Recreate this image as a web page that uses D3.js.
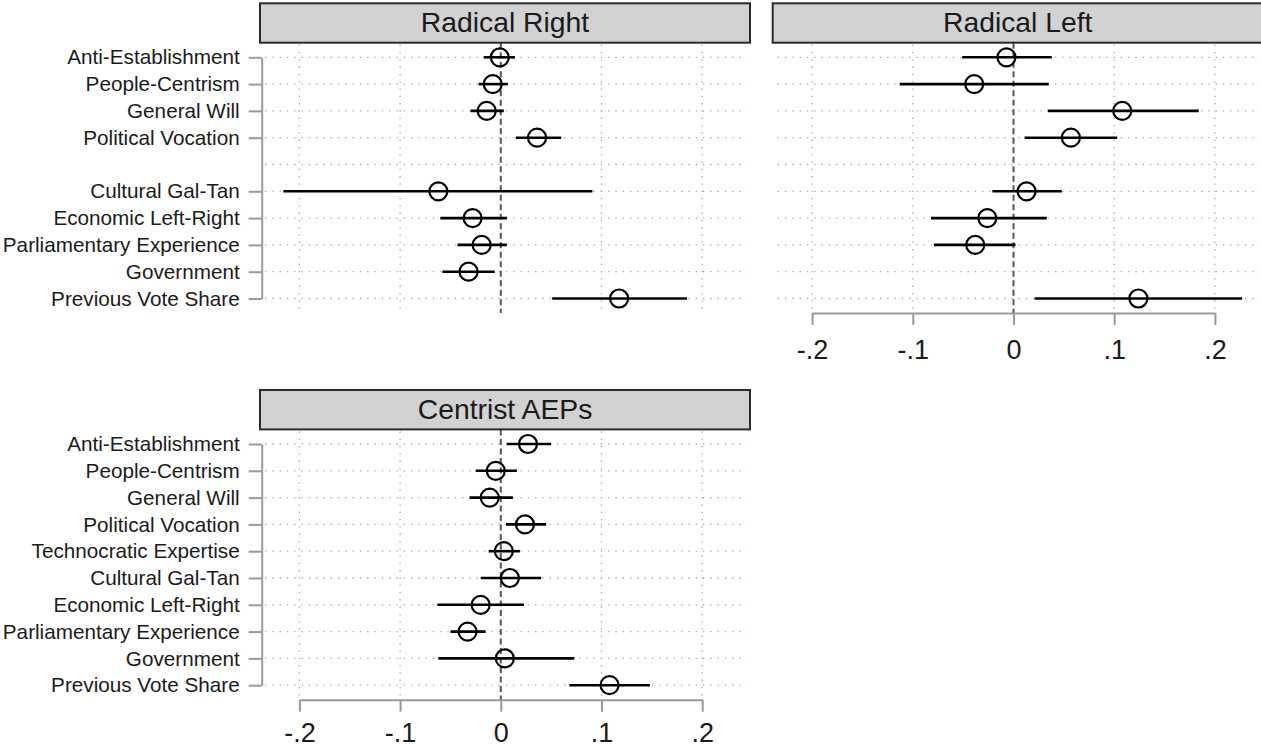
<!DOCTYPE html>
<html>
<head>
<meta charset="utf-8">
<script src="https://cdn.jsdelivr.net/npm/d3@7"></script>
<style>
  html, body { margin: 0; padding: 0; background: #fff; }
  svg { display: block; font-family: "Liberation Sans", Arial, sans-serif; }
</style>
</head>
<body>
<svg id="chart" width="1261" height="749"></svg>
<script>
// ---- data ----
const labels = ["Anti-Establishment","People-Centrism","General Will","Political Vocation",
  "Technocratic Expertise","Cultural Gal-Tan","Economic Left-Right","Parliamentary Experience",
  "Government","Previous Vote Share"];
const xTicks = [-0.2, -0.1, 0, 0.1, 0.2];
const xTickLabels = ["-.2", "-.1", "0", ".1", ".2"];

const rrCoef = [-0.001,-0.008,-0.014,0.036,null,-0.062,-0.028,-0.019,-0.032,0.1175];
const rrLo   = [-0.017,-0.022,-0.030,0.015,null,-0.216,-0.060,-0.043,-0.058,0.051];
const rrHi   = [0.014,0.007,0.003,0.060,null,0.091,0.006,0.006,-0.006,0.185];

const rlCoef = [-0.007,-0.039,0.108,0.057,null,0.013,-0.026,-0.038,null,0.124];
const rlLo   = [-0.051,-0.113,0.034,0.011,null,-0.021,-0.082,-0.079,null,0.021];
const rlHi   = [0.038,0.035,0.184,0.103,null,0.048,0.033,0.002,null,0.227];

const caCoef = [0.027,-0.005,-0.011,0.024,0.003,0.009,-0.020,-0.033,0.004,0.108];
const caLo   = [0.006,-0.025,-0.031,0.005,-0.012,-0.020,-0.063,-0.050,-0.062,0.068];
const caHi   = [0.050,0.016,0.012,0.045,0.019,0.040,0.023,-0.015,0.073,0.148];

const panels = [
  {title:"Radical Right", coef:rrCoef, lo:rrLo, hi:rrHi, left:260, top:3.3, yAxis:true, xAxis:false, shown:labels.filter((d,i)=>i!==4), pad:15},
  {title:"Radical Left", coef:rlCoef, lo:rlLo, hi:rlHi, left:772.7, top:3.3, yAxis:false, xAxis:true, shown:[], pad:15},
  {title:"Centrist AEPs", coef:caCoef, lo:caLo, hi:caHi, left:260, top:390, yAxis:true, xAxis:true, shown:labels, pad:11}
];

const svg = d3.select("#chart");
const boxW = 490, boxH = 39.4;
const zeroOff = 240.8;     // x of zero relative to box left
const unit = 1007;         // pixels per 1.0
const rowStart = 54, rowStep = 26.8;
const fmt = d => xTickLabels[xTicks.indexOf(d)];

panels.forEach(p => {
  const g = svg.append("g");
  const x0 = p.left + zeroOff;
  const x = d3.scaleLinear().domain([-0.2, 0.2]).range([x0 - 0.2*unit, x0 + 0.2*unit]);
  const yTop = p.top + rowStart;
  const y = d3.scalePoint().domain(labels).range([yTop, yTop + 9*rowStep]);
  const gridBottom = yTop + 9*rowStep + 14.5;
  const boxBottom = p.top + boxH;

  // horizontal dotted grid
  g.append("g").selectAll("line").data(labels).join("line")
    .attr("x1", p.left + 5).attr("x2", p.left + boxW - 3)
    .attr("y1", d => y(d)).attr("y2", d => y(d))
    .attr("stroke", "#a8a8a8").attr("stroke-width", 1.3)
    .attr("stroke-dasharray", "1.3 6");
  // vertical dotted grid
  g.append("g").selectAll("line").data(xTicks.filter(t => t !== 0)).join("line")
    .attr("x1", d => x(d)).attr("x2", d => x(d))
    .attr("y1", boxBottom + 2).attr("y2", gridBottom)
    .attr("stroke", "#a8a8a8").attr("stroke-width", 1.3)
    .attr("stroke-dasharray", "1.3 6");
  // zero reference line
  g.append("line")
    .attr("x1", x(0)).attr("x2", x(0))
    .attr("y1", boxBottom).attr("y2", gridBottom)
    .attr("stroke", "#555").attr("stroke-width", 2)
    .attr("stroke-dasharray", "6 3.5");

  const idx = d3.range(labels.length).filter(i => p.coef[i] !== null);
  // confidence intervals
  g.append("g").selectAll("line").data(idx).join("line")
    .attr("x1", i => x(p.lo[i])).attr("x2", i => x(p.hi[i]))
    .attr("y1", i => y(labels[i])).attr("y2", i => y(labels[i]))
    .attr("stroke", "#000").attr("stroke-width", 2.6);
  // point estimates
  g.append("g").selectAll("circle").data(idx).join("circle")
    .attr("cx", i => x(p.coef[i])).attr("cy", i => y(labels[i]))
    .attr("r", 9).attr("fill", "none")
    .attr("stroke", "#000").attr("stroke-width", 2.2);

  // title strip
  g.append("rect")
    .attr("x", p.left).attr("y", p.top).attr("width", boxW).attr("height", boxH)
    .attr("fill", "#d2d2d2").attr("stroke", "#2a2a2a").attr("stroke-width", 2);
  g.append("text")
    .attr("x", p.left + boxW/2).attr("y", p.top + 28.6)
    .attr("text-anchor", "middle").attr("font-size", 28.3).attr("fill", "#1a1a1a")
    .text(p.title);

  // y axis
  if (p.yAxis) {
    const ya = g.append("g").attr("transform", `translate(${p.left + 1.7},0)`)
      .call(d3.axisLeft(y).tickValues(p.shown).tickSize(13).tickSizeOuter(0).tickPadding(9));
    ya.select(".domain").attr("stroke", "#999").attr("stroke-width", 2);
    ya.selectAll(".tick line").attr("stroke", "#999").attr("stroke-width", 2);
    ya.selectAll(".tick text").attr("font-size", 20.7).attr("fill", "#1a1a1a")
      .attr("font-family", "'Liberation Sans', Arial, sans-serif");
  }
  // x axis
  if (p.xAxis) {
    const xa = g.append("g").attr("transform", `translate(0,${gridBottom})`)
      .call(d3.axisBottom(x).tickValues(xTicks).tickFormat(fmt).tickSize(12).tickSizeOuter(0).tickPadding(p.pad));
    xa.select(".domain").attr("stroke", "#999").attr("stroke-width", 2);
    xa.selectAll(".tick line").attr("stroke", "#999").attr("stroke-width", 2);
    xa.selectAll(".tick text").attr("font-size", 27).attr("fill", "#1a1a1a")
      .attr("font-family", "'Liberation Sans', Arial, sans-serif");
  }
});
</script>
</body>
</html>
